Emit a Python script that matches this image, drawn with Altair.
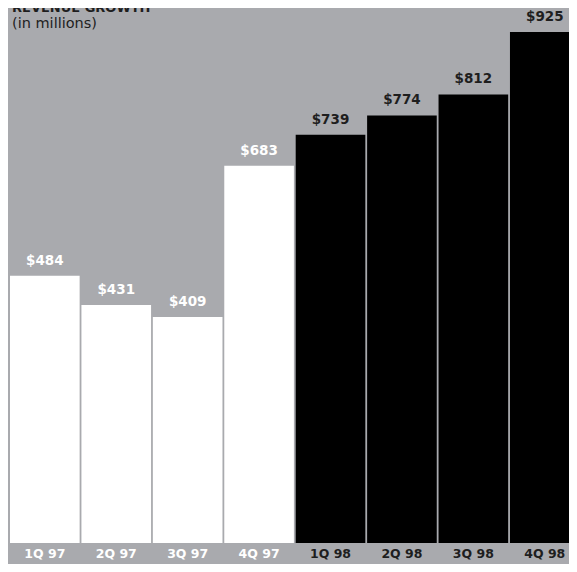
import altair as alt
import pandas as pd

quarters = ["1Q 97", "2Q 97", "3Q 97", "4Q 97", "1Q 98", "2Q 98", "3Q 98", "4Q 98"]
revenue = [484, 431, 409, 683, 739, 774, 812, 925]
years = ["97", "97", "97", "97", "98", "98", "98", "98"]
title_text = "REVENUE GROWTH"
subtitle_text = "(in millions)"

df = pd.DataFrame({
    "quarter": quarters,
    "revenue": revenue,
    "year": years,
    "label": [f"${v}" for v in revenue],
})

BG = "#a9aaae"
DARK = "#1e1e1e"
FONT = "DejaVu Sans"

x = alt.X("quarter:N", sort=quarters,
          scale=alt.Scale(range=[2, 571.6], paddingInner=0.025, paddingOuter=0),
          axis=None)
y = alt.Y("revenue:Q", scale=alt.Scale(domain=[0, 1000], range=[535, -17.4]), axis=None)
txt_color = alt.condition(alt.datum.year == "97", alt.value("#ffffff"), alt.value(DARK))

base = alt.Chart(df).encode(x=x)

bars = base.mark_bar(cornerRadius=0).encode(
    y=y,
    color=alt.Color("year:N", scale=alt.Scale(domain=["97", "98"], range=["#ffffff", "#000000"]), legend=None),
)

values = base.mark_text(dy=-11, baseline="alphabetic", fontSize=13.5, fontWeight="bold", font=FONT).encode(
    y=y, text="label:N", color=txt_color
)

qlabels = base.mark_text(baseline="alphabetic", fontSize=12.5, fontWeight="bold", font=FONT).encode(
    y=alt.value(550), text="quarter:N", color=txt_color
)

tdf = pd.DataFrame({"t": [title_text], "s": [subtitle_text]})
title = alt.Chart(tdf).mark_text(align="left", baseline="alphabetic", fontSize=13, fontWeight="bold",
                                 font=FONT, color=DARK).encode(
    x=alt.value(4), y=alt.value(4), text="t:N")
subtitle = alt.Chart(tdf).mark_text(align="left", baseline="alphabetic", fontSize=14.5,
                                    font=FONT, color=DARK).encode(
    x=alt.value(4), y=alt.value(20), text="s:N")

chart = alt.layer(bars, values, qlabels, title, subtitle).properties(
    width=561, height=556, padding=0,
    autosize=alt.AutoSizeParams(type="none"),
    background=BG,
).configure_view(stroke=None)

chart.save("out.html", embed_options={"renderer": "svg", "actions": False})
